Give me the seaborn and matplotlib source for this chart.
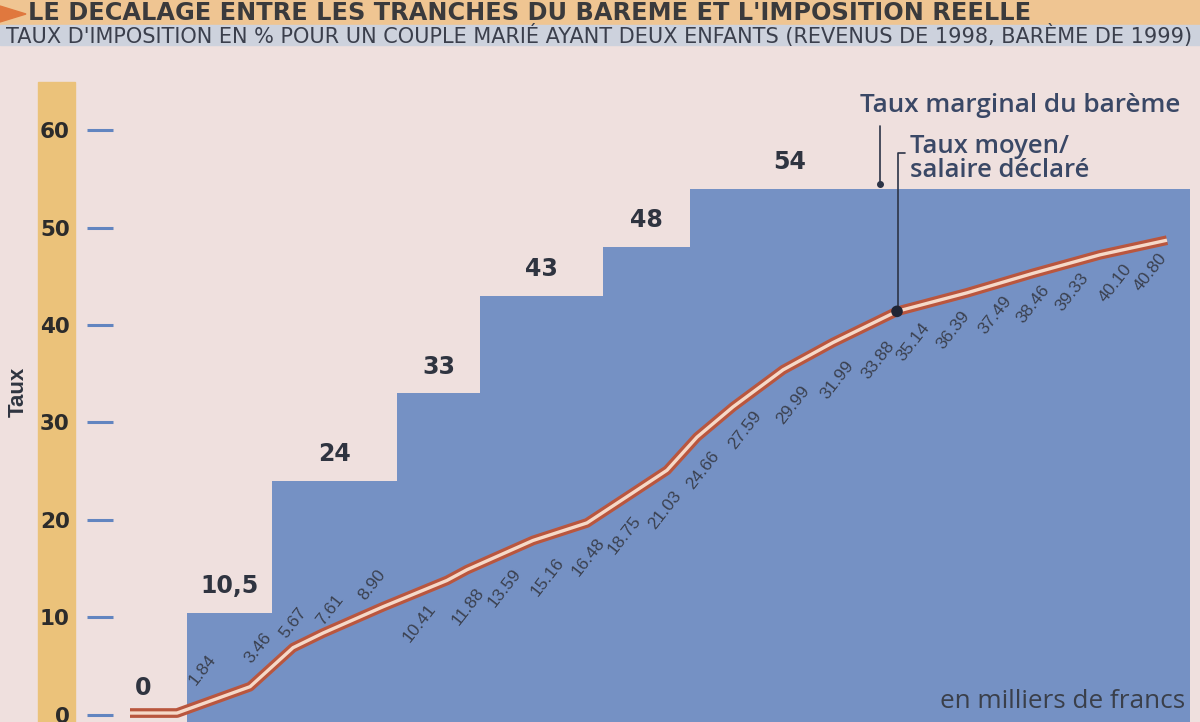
import matplotlib
matplotlib.use("Agg")
import matplotlib.pyplot as plt
import seaborn as sns
import pandas as pd
from matplotlib.patches import Rectangle, Polygon

sns.set_theme(style="white")
plt.rcParams['font.family'] = ['Liberation Sans', 'DejaVu Sans']

# ---------------- data ----------------
# tranches du barème (position sur l'axe des revenus, échelle du graphique)
tranche_start = [0, 8.7, 17.2, 29.7, 38.0, 50.3, 59.0]
tranche_end = 109.0
tranche_rate = [0, 10.5, 24, 33, 43, 48, 54]
tranche_label = ["0", "10,5", "24", "33", "43", "48", "54"]

# courbe du taux moyen / salaire déclaré
curve_x = [3.0, 7.7, 15.0, 19.3, 22.3, 28.3, 34.7, 36.7, 43.3, 48.7, 53.3,
           56.7, 59.7, 63.3, 68.3, 73.3, 79.7, 86.7, 93.3, 100.0, 106.7]
curve_y = [0.2, 0.2, 2.9, 6.9, 8.4, 11.1, 13.8, 14.9, 17.9, 19.7, 22.8,
           25.1, 28.5, 31.6, 35.4, 38.2, 41.4, 43.3, 45.3, 47.2, 48.7]

# taux moyens inscrits le long de la courbe
avg_labels = ["1.84", "3.46", "5.67", "7.61", "8.90", "10.41", "11.88", "13.59",
              "15.16", "16.48", "18.75", "21.03", "24.66", "27.59", "29.99",
              "31.99", "33.88", "35.14", "36.39", "37.49", "38.46", "39.33",
              "40.10", "40.80"]
avg_label_x = [10.3, 15.8, 19.3, 23.0, 27.2, 32.0, 36.8, 40.5, 44.8, 48.8, 52.5,
               56.5, 60.3, 64.5, 69.3, 73.7, 77.8, 81.3, 85.3, 89.5, 93.3, 97.2,
               101.5, 105.0]
avg_label_y = [4.6, 6.9, 9.4, 10.8, 13.3, 9.4, 11.1, 13.0, 14.2, 16.2, 18.5,
               21.0, 25.1, 29.2, 31.8, 34.4, 36.4, 38.3, 39.5, 41.0, 42.1, 43.4,
               44.3, 45.4]

y_ticks = [0, 10, 20, 30, 40, 50, 60]

title = "LE DÉCALAGE ENTRE LES TRANCHES DU BARÈME ET L'IMPOSITION RÉELLE"
subtitle = ("TAUX D'IMPOSITION EN % POUR UN COUPLE MARIÉ AYANT DEUX ENFANTS "
            "(REVENUS DE 1998, BARÈME DE 1999)")

# ---------------- figure ----------------
W, H = 1200, 722
BG = "#efe0de"
BLUE = "#7591c4"
TXT = "#2f3440"
ANN = "#3a4866"

fig = plt.figure(figsize=(W / 100, H / 100), dpi=100, facecolor=BG)

def fy(py):
    return (H - py) / H

# bands
fig.patches.append(Rectangle((0, fy(25)), 1, 25 / H, transform=fig.transFigure,
                             color="#efc592", zorder=-2))
fig.patches.append(Rectangle((0, fy(45)), 1, 20 / H, transform=fig.transFigure,
                             color="#cdd2dd", zorder=-2))
fig.patches.append(Polygon([(0, fy(6)), (26 / W, fy(14)), (0, fy(22))],
                           closed=True, transform=fig.transFigure,
                           color="#e0783e", zorder=-1))
# yellow strip for the y scale
fig.patches.append(Rectangle((38 / W, 0), 37 / W, fy(82), transform=fig.transFigure,
                             color="#ebc27a", zorder=-1))

ax = fig.add_axes([100 / W, 0, 1100 / W, (H - 45) / H])
ax.set_facecolor(BG)
ax.patch.set_alpha(0)
ax.set_xlim(0, 110)
ax.set_ylim(-0.72, 68.72)
for s in ax.spines.values():
    s.set_visible(False)

# tranches (steps)
widths = [b - a for a, b in zip(tranche_start, tranche_start[1:] + [tranche_end])]
for x0, w, r in zip(tranche_start, widths, tranche_rate):
    if r > 0:
        ax.bar(x0, r + 1, width=w, bottom=-1, align="edge", color=BLUE,
               edgecolor="none", zorder=1)

# step labels
for i, (x0, w, r, lab) in enumerate(zip(tranche_start, widths, tranche_rate, tranche_label)):
    xc = x0 + w / 2 if i < len(tranche_start) - 1 else x0 + 0.2 * w
    ax.text(xc, r + 1.5, lab, ha="center", va="bottom", fontsize=17,
            fontweight="bold", color=TXT, family=["DejaVu Sans"], zorder=5)

# curve
df = pd.DataFrame({"revenu": curve_x, "taux": curve_y})
sns.lineplot(data=df, x="revenu", y="taux", ax=ax, color="#b9563e", linewidth=7,
             sort=False, estimator=None, zorder=3,
             solid_capstyle="butt", solid_joinstyle="round")
sns.lineplot(data=df, x="revenu", y="taux", ax=ax, color="#f6d9c8", linewidth=2.4,
             sort=False, estimator=None, zorder=4,
             solid_capstyle="butt", solid_joinstyle="round")

# average labels
for lab, x, y in zip(avg_labels, avg_label_x, avg_label_y):
    ax.text(x, y, lab, rotation=52, ha="center", va="center", fontsize=12.5,
            color="#3b4150", zorder=5, rotation_mode="anchor")

# annotations
ax.plot([78.0, 78.0], [60.4, 54.3], color="#2c3447", lw=1.2, zorder=6)
ax.plot([78.0], [54.5], marker="o", ms=4, color="#2c3447", zorder=6)
t_marg = ax.text(76.0, 61.2, "Taux marginal du barème", ha="left", va="bottom",
                 fontsize=16, color=ANN, family=["Open Sans", "DejaVu Sans"],
                 fontweight="semibold", zorder=6)
ax.plot([80.5, 79.8, 79.8], [57.6, 57.6, curve_y[16]], color="#2c3447", lw=1.2, zorder=6)
sns.scatterplot(x=[curve_x[16]], y=[curve_y[16]], ax=ax, color="#1f2535", s=70,
                zorder=7, edgecolor="none")
t_moy = ax.text(81.0, 59.6, "Taux moyen/\nsalaire déclaré", ha="left", va="top",
                fontsize=15, color=ANN, family=["Open Sans", "DejaVu Sans"],
                fontweight="semibold", linespacing=0.95, zorder=6)
t_unit = ax.text(108.5, 0.7, "en milliers de francs", ha="right", va="baseline",
                 fontsize=16, color="#3a3f4a", family=["Open Sans", "DejaVu Sans"],
                 zorder=6)

# y axis
ax.set_xticks([])
ax.set_yticks(y_ticks)
ax.set_yticklabels([str(v) for v in y_ticks])
ax.tick_params(axis="y", direction="inout", length=19.4, width=2.2,
               color="#6285c0", pad=12.0, labelsize=15.5, labelcolor="#2b2b2b", left=True)
for lbl in ax.get_yticklabels():
    lbl.set_fontweight("bold")
    lbl.set_family(["DejaVu Sans"])
ax.set_xlabel("")
ax.set_ylabel("")
if ax.get_legend():
    ax.get_legend().remove()

fig.text(18 / W, fy(392), "Taux", rotation=90, ha="center", va="center",
         fontsize=16, fontweight="bold", color=TXT)

# title / subtitle
t1 = fig.text(28 / W, fy(13), title, ha="left", va="center", fontsize=17.3,
              fontweight="bold", color="#3a3a3c", family=["DejaVu Sans"])
t2 = fig.text(6 / W, fy(36), subtitle, ha="left", va="center", fontsize=11,
              fontweight="normal", color="#3b3f4c", family=["DejaVu Sans"])

renderer = fig.canvas.get_renderer()

def fit(t, width_px):
    w = t.get_window_extent(renderer).width
    t.set_fontsize(t.get_fontsize() * width_px / w)

fit(t2, 1188)
fit(t_marg, 323)
fit(t_moy, 180)
fit(t_unit, 245)

fig.savefig("out.png", dpi=100, facecolor=BG)
